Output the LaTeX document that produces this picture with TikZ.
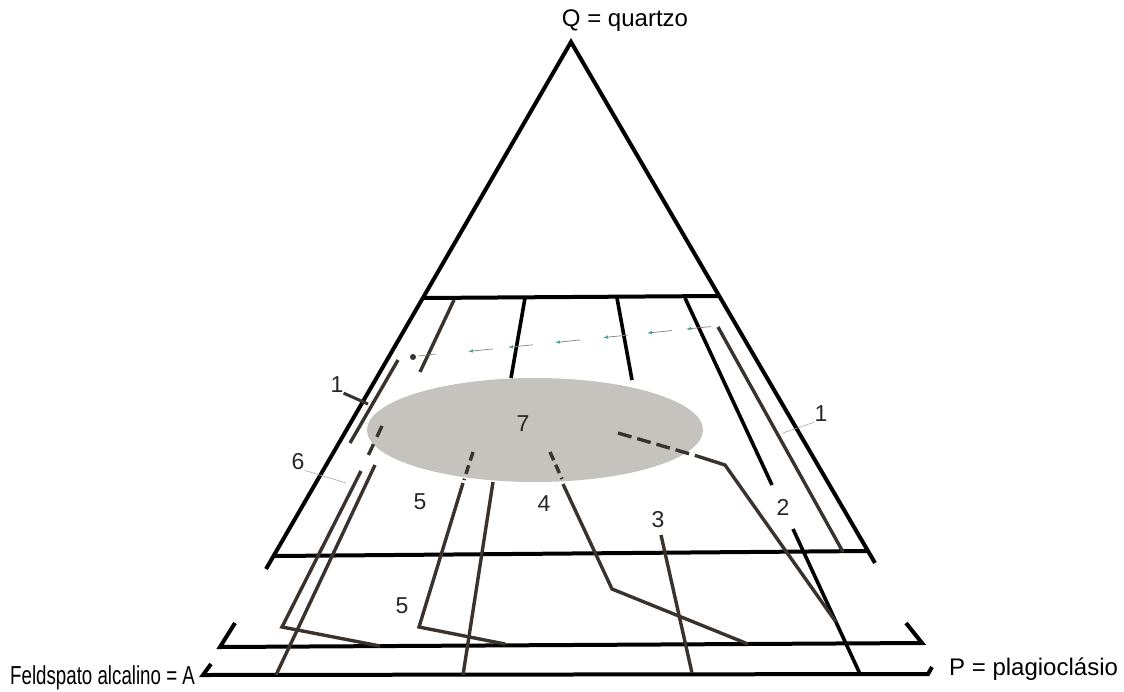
\documentclass[tikz,border=0pt]{standalone}
\usepackage{fontspec}
\setmainfont{Liberation Sans}
\newfontfamily\narrowfont[FakeStretch=0.72]{Liberation Sans}
\usetikzlibrary{arrows.meta}

\definecolor{veincol}{HTML}{3A322C}
\definecolor{blobcol}{HTML}{C5C3BD}
\definecolor{tipcol}{HTML}{3FA6A0}

\begin{document}
\begin{tikzpicture}[
    x=1pt, y=-1pt,
    frame/.style={line width=4pt, black, line join=miter},
    blackline/.style={line width=3.6pt, black},
    vein/.style={line width=3.4pt, veincol, line join=miter},
    dashvein/.style={vein, dash pattern=on 14pt off 6pt},
    leader/.style={line width=0.6pt, gray!70},
    flowarrow/.style={line width=0.7pt, gray,
        -{Latex[length=5pt, width=3.5pt, color=tipcol]}},
    numlabel/.style={inner sep=0pt, font=\fontsize{23}{27}\selectfont, black!85},
    endlabel/.style={inner sep=0pt, font=\fontsize{24}{28}\selectfont}
]

\useasboundingbox (0,0) rectangle (1124,691);

% ---------- Field 7 ----------
\fill[blobcol] (535,430) ellipse [x radius=168, y radius=52];

% ---------- Triangle and horizontal cuts ----------
\draw[frame] (266,569) -- (571,42) -- (875,563);
\draw[frame] (423,298) -- (718,296);
\draw[frame] (275,556) -- (867,551);
\draw[frame] (235,623) -- (220,647) -- (922,643) -- (906,623);
\draw[frame] (211,664) -- (203,675) -- (928,674) -- (932,667);

% ---------- Lines in the upper field ----------
\draw[blackline] (525,298) -- (511,378);
\draw[blackline] (617,298) -- (632,380);
\draw[blackline] (685,298) -- (772,485);
\draw[vein] (454,300) -- (420,372);
\draw[vein] (718,327) -- (843,552);
\draw[vein] (398,360) -- (350,443);

% ---------- Lines leaving field 7 ----------
\draw[vein, dash pattern=on 12pt off 8pt] (382,426) -- (367,458);
\draw[vein] (361,471) -- (282,627) -- (380,646);
\draw[vein] (375,465) -- (276,675);

\draw[vein, dash pattern=on 9pt off 5pt] (473,452) -- (464,480);
\draw[vein] (463,483) -- (419,627) -- (505,644);
\draw[vein] (493,482) -- (463,675);

\draw[vein, dash pattern=on 9pt off 5pt] (550,452) -- (562,479);
\draw[vein] (563,484) -- (612,589) -- (748,644);

\draw[vein] (661,535) -- (692,673);
\draw[blackline] (793,529) -- (860,674);

\draw[dashvein] (618,433) -- (697,456);
\draw[vein] (697,456) -- (725,465) -- (836,622);

% ---------- Trend arrows ----------
\fill[veincol] (413,357) circle (3);
\draw[leader, gray] (418,356) -- (436,354);
\foreach \t in {468,508,555,603,647,686}
    \draw[flowarrow] (\t+25, {357-(\t+25-414)*0.1026}) -- (\t, {357-(\t-414)*0.1026});

% ---------- Labels ----------
\node[endlabel] (qlabel) at (625,21) {Q = quartzo};
\node[endlabel, anchor=base west] (plabel) at (949,675) {P = plagioclásio};
\node[inner sep=0pt, anchor=base west, font=\fontsize{26}{30}\narrowfont] (alabel)
    at (10,684) {Feldspato alcalino = A};

\node[numlabel] (n7) at (523,424) {7};
\node[numlabel] (n1left) at (337,385) {1};
\node[numlabel] (n1right) at (821,414) {1};
\node[numlabel] (n6) at (298,462) {6};
\node[numlabel] (n5up) at (420,502) {5};
\node[numlabel] (n5low) at (402,606) {5};
\node[numlabel] (n4) at (544,504) {4};
\node[numlabel] (n3) at (658,520) {3};
\node[numlabel] (n2) at (783,507) {2};

% ---------- Leaders ----------
\coordinate (tick1left) at (368,404);
\coordinate (tick1right) at (783,433);
\coordinate (tick6) at (346,483);

\draw[vein, line width=3pt] (n1left.south east) -- (tick1left);
\draw[leader] (n1right.south west) -- (tick1right);
\draw[leader] (n6.south east) -- (tick6);

\end{tikzpicture}
\end{document}
